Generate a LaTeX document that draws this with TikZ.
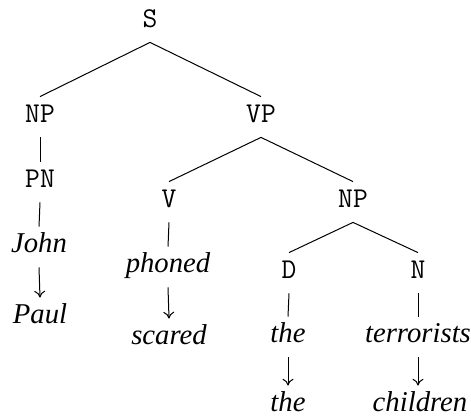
\documentclass[tikz,border=0pt]{standalone}
\usepackage{fontspec}
\setmainfont{Liberation Serif}
\setmonofont{Latin Modern Mono}
\usetikzlibrary{arrows.meta}
\begin{document}
\begin{tikzpicture}[x=0.5pt,y=-0.5pt,
  lab/.style={font=\fontsize{14.35}{17}\selectfont\ttfamily, anchor=base,
    inner xsep=0pt, inner ysep=4.25pt, text height=8.75pt, text depth=2.75pt},
  word/.style={font=\fontsize{14.35}{17}\selectfont\rmfamily\itshape, anchor=base,
    inner xsep=0pt, inner ysep=4.25pt, text height=8.75pt, text depth=2.75pt},
  branch/.style={line width=0.5pt},
  swap/.style={line width=0.5pt, -{To[length=3.4pt,width=5.5pt]}}]
\useasboundingbox (0,0) rectangle (471,416);
\node[lab] (S) at (150,28) {S};
\node[lab] (NPa) at (40,123) {NP};
\node[lab] (VP) at (261,123) {VP};
\node[lab] (PN) at (40,188) {PN};
\node[word] (John) at (39,253) {John};
\node[word] (Paul) at (40,324) {Paul};
\node[lab] (V) at (169,208) {V};
\node[lab] (NPb) at (353,208) {NP};
\node[word] (phoned) at (168,273) {phoned};
\node[word] (scared) at (169,345) {scared};
\node[lab] (D) at (289,279) {D};
\node[lab] (N) at (418,279) {N};
\node[word] (the) at (288,343) {the};
\node[word] (terr) at (418,343) {terrorists};
\node[word] (theb) at (288,412) {the};
\node[word] (child) at (420,412) {children};
\draw[branch] (S.south) -- (NPa.north);
\draw[branch] (S.south) -- (VP.north);
\draw[branch] (NPa.south) -- (PN.north);
\draw[branch] (PN.south) -- (John.north);
\draw[swap] (John.south) -- (Paul.north);
\draw[branch] (VP.south) -- (V.north);
\draw[branch] (VP.south) -- (NPb.north);
\draw[branch] (V.south) -- (phoned.north);
\draw[swap] (phoned.south) -- (scared.north);
\draw[branch] (NPb.south) -- (D.north);
\draw[branch] (NPb.south) -- (N.north);
\draw[branch] (D.south) -- (the.north);
\draw[branch] (N.south) -- (terr.north);
\draw[swap] (the.south) -- (theb.north);
\draw[swap] (terr.south) -- (child.north-|terr.south);
\end{tikzpicture}
\end{document}
